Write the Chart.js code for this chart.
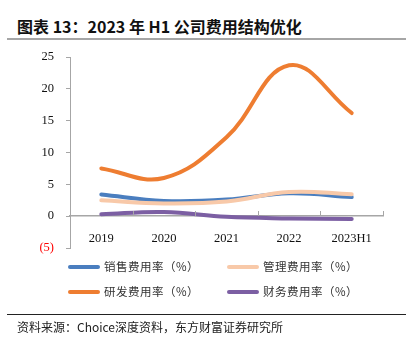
<!DOCTYPE html>
<html>
<head>
<meta charset="utf-8">
<script src="https://cdn.jsdelivr.net/npm/chart.js@4/dist/chart.umd.min.js"></script>
<style>
  html, body { margin: 0; padding: 0; background: #fff; }
  #wrap { position: relative; width: 419px; height: 347px; overflow: hidden; }
  #title {
    position: absolute; left: 17px; top: 14px;
    font: bold 16px "Noto Sans CJK SC", sans-serif; color: #111; white-space: nowrap;
  }
  #titleRule { position: absolute; left: 7px; top: 38px; width: 399px; height: 2px; background: #a6a6a6; }
  #chart { position: absolute; left: 0; top: 0; }
  .legend { position: absolute; font: 11.5px "Noto Sans CJK SC", sans-serif; color: #333; letter-spacing: 0.5px; white-space: nowrap; }
  .legend i { display: inline-block; width: 32px; height: 4px; border-radius: 2px; vertical-align: middle; margin-right: 4px; position: relative; top: -1px; }
  #footRule { position: absolute; left: 7px; top: 314px; width: 399px; height: 1px; background: #222; }
  #source {
    position: absolute; left: 17px; top: 318px;
    font: 12px "Noto Sans CJK SC", sans-serif; color: #222; white-space: nowrap;
  }
</style>
</head>
<body>
<div id="wrap">
  <div id="title">图表 13：2023 年 H1 公司费用结构优化</div>
  <div id="titleRule"></div>
  <canvas id="chart" width="419" height="347"></canvas>
  <div id="legend"></div>
  <div id="footRule"></div>
  <div id="source">资料来源：Choice深度资料，东方财富证券研究所</div>
</div>
<script>
const years = ["2019", "2020", "2021", "2022", "2023H1"];
const salesRate = [3.4, 2.4, 2.6, 3.6, 3.0];
const adminRate = [2.5, 2.0, 2.3, 3.8, 3.45];
const rdRate = [7.5, 6.0, 12.4, 23.7, 16.2];
const financeRate = [0.3, 0.65, -0.1, -0.35, -0.45];
const yTicks = [-5, 0, 5, 10, 15, 20, 25];

const seriesNames = ["销售费用率（%）", "管理费用率（%）", "研发费用率（%）", "财务费用率（%）"];
const seriesColors = ["#4a7ebf", "#f8c9a9", "#ee7d31", "#7c5fa3"];
const axisColor = "#a6a6a6";

// legend laid out in two columns
const legendPos = [[68, 258], [227, 258], [68, 283], [227, 283]];
const legendBox = document.getElementById("legend");
seriesNames.forEach((name, k) => {
  const el = document.createElement("div");
  el.className = "legend";
  el.style.left = legendPos[k][0] + "px";
  el.style.top = legendPos[k][1] + "px";
  el.innerHTML = '<i style="background:' + seriesColors[k] + '"></i>' + name;
  legendBox.appendChild(el);
});

// short upward ticks on the category axis, at the right edge of each category
const xTickMarks = {
  id: "xTickMarks",
  afterDatasetsDraw(chart) {
    const x = chart.scales.x;
    const y0 = Math.round(chart.scales.y.getPixelForValue(0));
    const half = (x.getPixelForValue(1) - x.getPixelForValue(0)) / 2;
    const ctx = chart.ctx;
    ctx.save();
    ctx.strokeStyle = axisColor;
    ctx.lineWidth = 1;
    ctx.beginPath();
    years.forEach((_, i) => {
      const px = Math.round(x.getPixelForValue(i) + half) + 0.5;
      ctx.moveTo(px, y0);
      ctx.lineTo(px, y0 - 5);
    });
    ctx.stroke();
    ctx.restore();
  }
};

const makeSet = (k, values, order) => ({
  label: seriesNames[k],
  data: values,
  borderColor: seriesColors[k],
  backgroundColor: seriesColors[k],
  borderWidth: 4,
  borderCapStyle: "round",
  pointRadius: 0,
  tension: 0.4,
  order: order
});

new Chart(document.getElementById("chart"), {
  type: "line",
  data: {
    labels: years,
    datasets: [
      makeSet(0, salesRate, 4),
      makeSet(1, adminRate, 3),
      makeSet(2, rdRate, 2),
      makeSet(3, financeRate, 1)
    ]
  },
  options: {
    responsive: false,
    animation: false,
    layout: { padding: { left: 0, top: 57, right: 36, bottom: 99 } },
    plugins: { legend: { display: false }, tooltip: { enabled: false } },
    scales: {
      x: {
        position: { y: 0 },
        offset: true,
        grid: { display: false },
        border: { display: true, color: axisColor, width: 1.5 },
        ticks: {
          padding: 7,
          maxRotation: 0,
          color: "#111",
          font: { family: "Liberation Serif", size: 12.5 }
        }
      },
      y: {
        min: -5,
        max: 25,
        afterFit(scale) { scale.width = 70; },
        afterBuildTicks(scale) { scale.ticks = yTicks.map(v => ({ value: v })); },
        grid: { drawOnChartArea: false, tickLength: 4, color: axisColor },
        border: { display: true, color: axisColor, width: 1 },
        ticks: {
          padding: 12,
          color: (c) => (c.tick.value < 0 ? "#ff0000" : "#111"),
          font: { family: "Liberation Serif", size: 12.5 },
          callback: (v) => (v < 0 ? "(" + Math.abs(v) + ")" : String(v))
        }
      }
    }
  },
  plugins: [xTickMarks]
});
</script>
</body>
</html>
